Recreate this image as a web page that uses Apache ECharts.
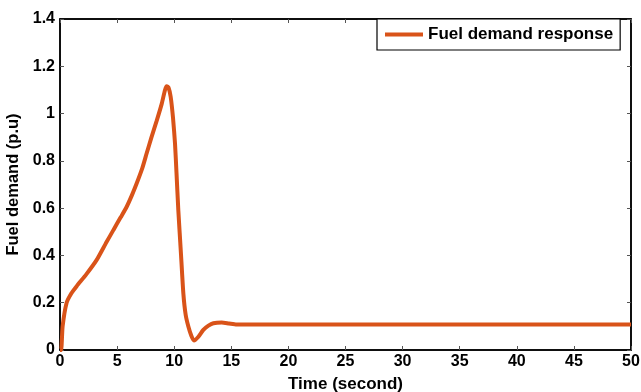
<!DOCTYPE html>
<html>
<head>
<meta charset="utf-8">
<script src="https://cdn.jsdelivr.net/npm/echarts@6/dist/echarts.min.js"></script>
<style>html,body{margin:0;padding:0;background:#fff}#c{width:641px;height:392px}</style>
</head>
<body>
<div id="c"></div>
<script>
const timeData = [0, 0.1, 0.23, 0.58, 1.0, 1.46, 2.3, 3.2, 4.0, 4.67, 5.3, 5.84, 6.3, 6.71, 7.2, 7.59, 8.0, 8.47, 8.9, 9.19, 9.34, 9.5, 9.69, 9.9, 10.07, 10.2, 10.36, 10.6, 10.8, 11.0, 11.24, 11.5, 11.73, 12.1, 12.55, 13.0, 13.43, 14.16, 14.8, 15.47, 20, 25, 30, 35, 40, 45, 50];
const fuelData = [0, 0.0, 0.10, 0.20, 0.24, 0.27, 0.32, 0.38, 0.45, 0.507, 0.56, 0.606, 0.655, 0.704, 0.768, 0.832, 0.898, 0.97, 1.04, 1.099, 1.116, 1.11, 1.071, 0.98, 0.874, 0.75, 0.592, 0.40, 0.24, 0.15, 0.099, 0.06, 0.04, 0.055, 0.085, 0.103, 0.113, 0.116, 0.112, 0.108, 0.108, 0.108, 0.108, 0.108, 0.108, 0.108, 0.108];
const xTicks = [0, 5, 10, 15, 20, 25, 30, 35, 40, 45, 50];
const yTicks = [0, 0.2, 0.4, 0.6, 0.8, 1, 1.2, 1.4];
const seriesName = 'Fuel demand response';

const font = 'Liberation Sans, Arial, sans-serif';
const pts = timeData.map((t, i) => [t, fuelData[i]]);
const chart = echarts.init(document.getElementById('c'));
const mkTick = () => ({ show: true, inside: true, length: 4, lineStyle: { color: '#555', width: 1 } });
chart.setOption({
  animation: false,
  grid: { left: 60, right: 10, top: 19, bottom: 42, containLabel: false, outerBoundsMode: 'none',
    show: true, borderColor: '#000', borderWidth: 1.5, backgroundColor: '#fff' },
  legend: {
    data: [{ name: seriesName, icon: 'rect' }],
    left: 377, top: 19,
    itemWidth: 38, itemHeight: 4, itemGap: 4,
    borderColor: '#000', borderWidth: 1.2,
    padding: [7, 7, 7, 8],
    backgroundColor: '#fff',
    textStyle: { fontFamily: font, fontWeight: 'bold', fontSize: 17, color: '#000' }
  },
  xAxis: [{
    type: 'value', min: 0, max: 50, interval: 5,
    name: 'Time (second)', nameLocation: 'middle', nameGap: 26,
    nameTextStyle: { fontFamily: font, fontWeight: 'bold', fontSize: 17, color: '#000' },
    axisLine: { show: true, onZero: false, lineStyle: { color: '#000', width: 1.5 } },
    axisTick: mkTick(),
    axisLabel: { fontFamily: font, fontWeight: 'bold', fontSize: 16, color: '#000', margin: 4,
      formatter: v => xTicks.includes(v) ? String(v) : '' },
    splitLine: { show: false }
  }, {
    type: 'value', min: 0, max: 50, interval: 5, position: 'top',
    axisLine: { show: true, onZero: false, lineStyle: { color: '#000', width: 1.5 } },
    axisTick: mkTick(), axisLabel: { show: false }, splitLine: { show: false }
  }],
  yAxis: [{
    type: 'value', min: 0, max: 1.4, interval: 0.2,
    name: 'Fuel demand (p.u)', nameLocation: 'middle', nameGap: 29,
    nameTextStyle: { fontFamily: font, fontWeight: 'bold', fontSize: 16.5, color: '#000' },
    axisLine: { show: true, onZero: false, lineStyle: { color: '#000', width: 1.5 } },
    axisTick: mkTick(),
    axisLabel: { fontFamily: font, fontWeight: 'bold', fontSize: 16, color: '#000', margin: 5,
      formatter: v => { const r = Math.round(v * 10) / 10; return yTicks.some(t => Math.abs(t - r) < 1e-9) ? String(r) : ''; } },
    splitLine: { show: false }
  }, {
    type: 'value', min: 0, max: 1.4, interval: 0.2, position: 'right',
    axisLine: { show: true, onZero: false, lineStyle: { color: '#000', width: 1.5 } },
    axisTick: mkTick(), axisLabel: { show: false }, splitLine: { show: false }
  }],
  series: [{
    name: seriesName, type: 'line', data: pts, showSymbol: false, smooth: 0.2,
    xAxisIndex: 0, yAxisIndex: 0,
    lineStyle: { color: '#D95319', width: 4 }, itemStyle: { color: '#D95319' }
  }]
});
</script>
</body>
</html>
